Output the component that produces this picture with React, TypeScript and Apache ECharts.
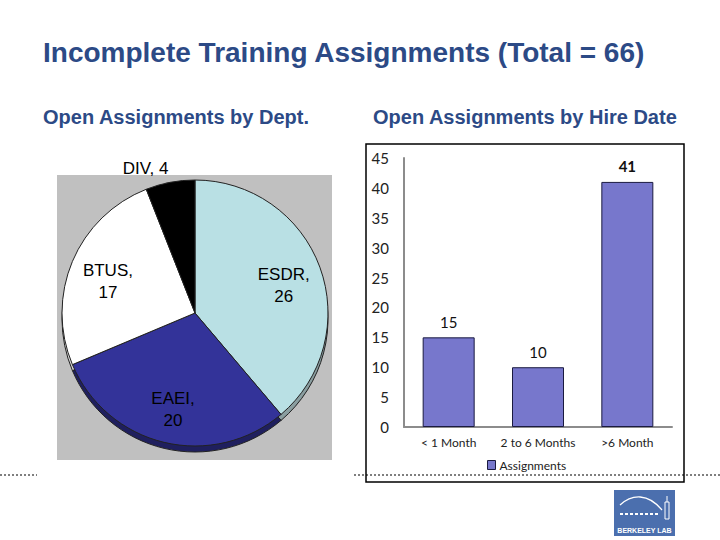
import React, { useEffect, useRef } from "react";
import * as echarts from "echarts";

const deptNames = ["ESDR", "EAEI", "BTUS", "DIV"];
const deptValues = [26, 20, 17, 4];
const deptColors = ["#b9e0e4", "#333399", "#ffffff", "#000000"];
const deptSideColors = ["#8a9ea0", "#1f1f5e", "#d8d8d8", "#000000"];

const hireCategories = ["< 1 Month", "2 to 6 Months", ">6 Month"];
const hireValues = [15, 10, 41];
const yTicks = { min: 0, max: 45, interval: 5 };

const titleText = "Incomplete Training Assignments (Total = 66)";
const subLeft = "Open Assignments by Dept.";
const subRight = "Open Assignments by Hire Date";
const seriesName = "Assignments";

const BLUE = "#2c4a86";
const FONT = "'Liberation Sans', Arial, sans-serif";
const CFONT = "Lato, 'Open Sans', sans-serif";

export default function App() {
  const ref = useRef<HTMLDivElement>(null);
  useEffect(() => {
    if (!ref.current) return;
    const chart = echarts.init(ref.current, null, { renderer: "svg" });
    const pieCenter = [195, 313];
    const R = 133;
    const mainData = deptNames.map((n, i) => ({
      name: n,
      value: deptValues[i],
      itemStyle: { color: deptColors[i] },
    }));
    const sideData = deptNames.map((n, i) => ({
      name: n,
      value: deptValues[i],
      itemStyle: { color: deptSideColors[i] },
    }));
    const labelData = deptNames.map((n, i) => ({
      name: n,
      value: deptValues[i],
      label: { show: n !== "DIV" },
    }));
    const divLabelData = deptNames.map((n, i) => ({
      name: n,
      value: deptValues[i],
      label: { show: n === "DIV" },
    }));
    const maxVal = Math.max(...hireValues);
    const barData = hireValues.map((v) => ({
      value: v,
      label: { fontWeight: v === maxVal ? "bold" : "normal" },
    }));

    chart.setOption({
      animation: false,
      backgroundColor: "#ffffff",
      graphic: [
        { type: "rect", z: -10, shape: { x: 57, y: 175, width: 275, height: 285 }, style: { fill: "#c0c0c0" } },
        { type: "text", left: 43, top: 38, style: { text: titleText, font: `bold 28px ${FONT}`, fill: BLUE } },
        { type: "text", left: 43, top: 107, style: { text: subLeft, font: `bold 20px ${FONT}`, fill: BLUE } },
        { type: "text", left: 373, top: 107, style: { text: subRight, font: `bold 20px ${FONT}`, fill: BLUE } },
        { type: "rect", shape: { x: 366, y: 144, width: 318, height: 338 }, style: { fill: "none", stroke: "#000", lineWidth: 1.5 } },
        { type: "line", shape: { x1: 0, y1: 475, x2: 37, y2: 475 }, style: { stroke: "#000", lineWidth: 1.2, lineDash: [2, 2] } },
        { type: "line", shape: { x1: 354, y1: 475, x2: 720, y2: 475 }, style: { stroke: "#000", lineWidth: 1.2, lineDash: [2, 2] } },
        { type: "rect", shape: { x: 614, y: 490, width: 61, height: 46 }, style: { fill: "#4b6fae" } },
        { type: "bezierCurve", shape: { x1: 620, y1: 505, cpx1: 632, cpy1: 494, x2: 662, y2: 510, cpx2: 648, cpy2: 493 }, style: { stroke: "#fff", lineWidth: 1.3, fill: "none" } },
        { type: "line", shape: { x1: 620, y1: 514, x2: 660, y2: 514 }, style: { stroke: "#fff", lineWidth: 2, lineDash: [3, 2] } },
        { type: "rect", shape: { x: 665, y: 502, width: 4, height: 17 }, style: { fill: "none", stroke: "#fff", lineWidth: 1 } },
        { type: "line", shape: { x1: 667, y1: 496, x2: 667, y2: 502 }, style: { stroke: "#fff", lineWidth: 1 } },
        { type: "text", x: 644.5, y: 530, style: { text: "BERKELEY LAB", font: `bold 7px ${FONT}`, fill: "#fff", align: "center", verticalAlign: "middle" } },
      ],
      grid: { left: 404, right: 48, top: 158, bottom: 113 },
      legend: {
        data: [seriesName],
        left: 487,
        top: 459,
        padding: 0,
        icon: "rect",
        itemWidth: 8,
        itemHeight: 9,
        itemGap: 4,
        textStyle: { fontFamily: CFONT, fontSize: 12, color: "#222", padding: [0, 0, 0, -1] },
        itemStyle: { borderColor: "#1a1a40", borderWidth: 1 },
        selectedMode: false,
      },
      xAxis: {
        type: "category",
        data: hireCategories,
        axisLine: { lineStyle: { color: "#8c8c8c", width: 2 } },
        axisTick: { show: false },
        axisLabel: { fontFamily: CFONT, fontSize: 12, color: "#222", margin: 9, interval: 0 },
      },
      yAxis: {
        type: "value",
        min: yTicks.min,
        max: yTicks.max,
        interval: yTicks.interval,
        axisLine: { show: true, lineStyle: { color: "#8c8c8c", width: 2 } },
        axisTick: { show: false },
        splitLine: { show: false },
        axisLabel: { fontFamily: CFONT, fontSize: 15, color: "#222", margin: 15 },
      },
      series: [
        {
          type: "pie",
          name: "side",
          silent: true,
          z: 1,
          center: [pieCenter[0], pieCenter[1] + 6],
          radius: [0, R],
          startAngle: 90,
          label: { show: false },
          labelLine: { show: false },
          itemStyle: { borderColor: "#222", borderWidth: 1 },
          data: sideData,
        },
        {
          type: "pie",
          name: "dept",
          silent: true,
          z: 2,
          center: pieCenter,
          radius: [0, R],
          startAngle: 90,
          label: { show: false },
          labelLine: { show: false },
          itemStyle: { borderColor: "#222", borderWidth: 1 },
          data: mainData,
        },
        {
          type: "pie",
          name: "labels",
          silent: true,
          z: 3,
          center: [pieCenter[0], pieCenter[1] + 5],
          radius: [50, R],
          startAngle: 90,
          itemStyle: { color: "rgba(0,0,0,0)" },
          label: {
            position: "inside",
            formatter: "{b},\n{c}",
            fontFamily: FONT,
            fontSize: 17,
            lineHeight: 22,
            color: "#000",
          },
          labelLine: { show: false },
          data: labelData,
        },
        {
          type: "pie",
          name: "divlabel",
          silent: true,
          z: 3,
          center: pieCenter,
          radius: [140, 148],
          startAngle: 90,
          itemStyle: { color: "rgba(0,0,0,0)" },
          label: {
            position: "inside",
            formatter: "{b}, {c}",
            fontFamily: FONT,
            fontSize: 17,
            color: "#000",
            padding: [0, 44, 0, 0],
          },
          labelLine: { show: false },
          data: divLabelData,
        },
        {
          type: "bar",
          name: seriesName,
          data: barData,
          barWidth: 52,
          itemStyle: { color: "#7777cc", borderColor: "#1a1a40", borderWidth: 1 },
          label: { show: true, position: "top", distance: 8, fontFamily: CFONT, fontSize: 15, color: "#111" },
        },
      ],
    });
    return () => chart.dispose();
  }, []);
  return <div ref={ref} style={{ position: "absolute", left: 0, top: 0, width: 720, height: 540 }} />;
}
